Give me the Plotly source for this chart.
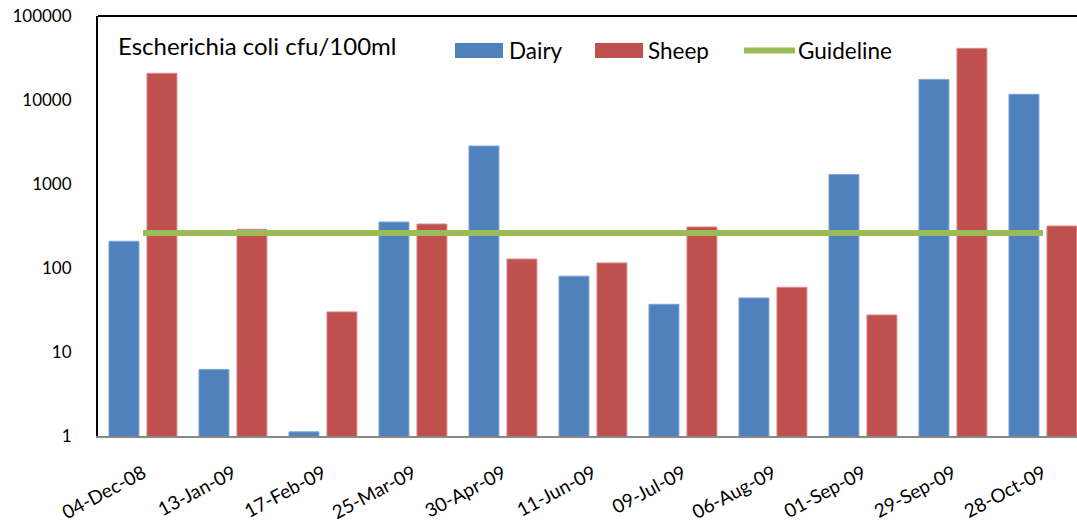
import plotly.graph_objects as go

categories = ["04-Dec-08", "13-Jan-09", "17-Feb-09", "25-Mar-09", "30-Apr-09", "11-Jun-09",
              "09-Jul-09", "06-Aug-09", "01-Sep-09", "29-Sep-09", "28-Oct-09"]
dairy = [208, 6.2, 1.12, 353, 2830, 80, 37, 44, 1300, 17600, 11700]
sheep = [20800, 289, 30, 334, 128, 115, 308, 59, 27.6, 41200, 316]
guideline = [261] * len(categories)
y_ticks = [1, 10, 100, 1000, 10000, 100000]
y_tick_labels = ["1", "10", "100", "1000", "10000", "100000"]

BLUE = "#4F81BD"
RED = "#C0504D"
GREEN = "#9BBB59"
FONT = "Lato"

W, H = 1077, 524
L, R, T, B = 98, 0, 16, 88

idx = list(range(len(categories)))

fig = go.Figure()
fig.add_trace(go.Bar(x=idx, y=dairy, name="Dairy", marker=dict(color=BLUE, line=dict(width=1, color="#7FA3D3")),
                     width=0.333, offset=-0.378))
fig.add_trace(go.Bar(x=idx, y=sheep, name="Sheep", marker=dict(color=RED, line=dict(width=1, color="#D98C8A")),
                     width=0.333, offset=0.044))
fig.add_trace(go.Scatter(x=idx, y=guideline, name="Guideline", mode="lines",
                         line=dict(color=GREEN, width=6)))

fig.update_layout(
    width=W, height=H,
    margin=dict(l=L, r=R, t=T, b=B, autoexpand=False),
    paper_bgcolor="white", plot_bgcolor="white",
    barmode="overlay",
    showlegend=False,
    font=dict(family=FONT, size=18, color="#000000"),
    xaxis=dict(
        range=[-0.5, 10.378], automargin=False,
        tickmode="array", tickvals=idx, ticktext=categories,
        tickangle=-28, showgrid=False, zeroline=False,
        showline=True, linecolor="#878787", linewidth=2,
        ticks="", ticklabelstandoff=17, tickfont=dict(size=19, family=FONT),
    ),
    yaxis=dict(
        type="log", range=[0, 5], automargin=False,
        tickmode="array", tickvals=y_ticks, ticktext=y_tick_labels,
        showgrid=False, zeroline=False,
        showline=True, linecolor="#000000", linewidth=2,
        ticks="", ticklabelstandoff=21,
        tickfont=dict(size=17, family=FONT),
    ),
)

# top border
fig.add_shape(type="line", xref="paper", yref="paper", x0=0, x1=1, y0=1, y1=1,
              line=dict(color="#000000", width=2))

pw = W - L - R
ph = H - T - B
def px(x):
    return (x - L) / pw
def py(y):
    return 1 - (y - T) / ph

# title text inside plot
fig.add_annotation(text="Escherichia coli cfu/100ml", xref="paper", yref="paper",
                   x=px(116), y=py(46),
                   xanchor="left", yanchor="middle", showarrow=False,
                   font=dict(size=24, family=FONT, color="#000000"))

# custom legend
legend_items = [("Dairy", BLUE, "rect", 455, 503, 507),
                ("Sheep", RED, "rect", 595, 643, 646),
                ("Guideline", GREEN, "line", 744, 795, 796)]
for name, col, kind, x0, x1, tx in legend_items:
    if kind == "rect":
        fig.add_shape(type="rect", xref="paper", yref="paper",
                      x0=px(x0), x1=px(x1), y0=py(58), y1=py(43),
                      fillcolor=col, line=dict(width=0))
    else:
        fig.add_shape(type="line", xref="paper", yref="paper",
                      x0=px(x0), x1=px(x1), y0=py(50.5), y1=py(50.5),
                      line=dict(color=col, width=6))
    fig.add_annotation(text=name, xref="paper", yref="paper", x=px(tx), y=py(50),
                       xanchor="left", yanchor="middle", showarrow=False,
                       font=dict(size=22.5, family=FONT, color="#000000"))

fig.write_html("out.html", config={"displayModeBar": False},
               post_script="document.body.style.margin='0';document.body.style.overflow='hidden';")
